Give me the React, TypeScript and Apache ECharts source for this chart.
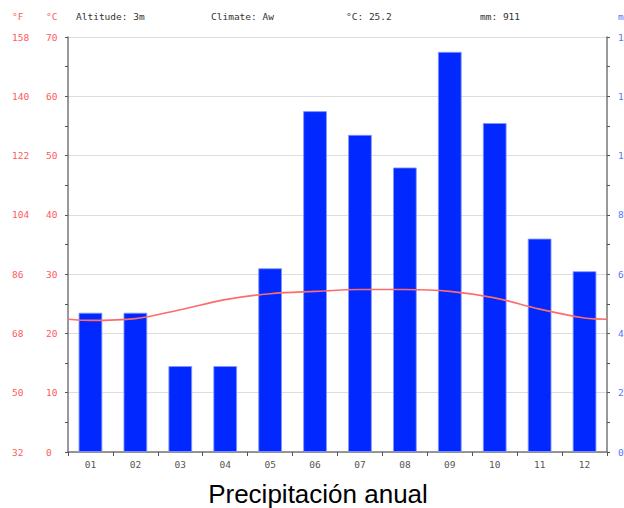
import React, { useEffect, useRef } from "react";
import * as echarts from "echarts";

// ---- data ----
const months = ["01", "02", "03", "04", "05", "06", "07", "08", "09", "10", "11", "12"];
const precipitationMm = [47, 47, 29, 29, 62, 115, 107, 96, 135, 111, 72, 61];
const temperatureC = [22.2, 22.5, 24.0, 25.7, 26.7, 27.1, 27.4, 27.4, 27.1, 26.0, 24.1, 22.6];
const temperatureAtYearEdge = 22.4; // value of the curve at both plot edges
const headerTexts = ["Altitude: 3m", "Climate: Aw", "°C: 25.2", "mm: 911"];
const chartTitle = "Precipitación anual";

const MONO = "'DejaVu Sans Mono', monospace";
const RED = "#ff5a5a";
const BLUE = "#5573ff";

export default function App() {
  const ref = useRef<HTMLDivElement>(null);

  useEffect(() => {
    if (!ref.current) return;
    const chart = echarts.init(ref.current, null, { renderer: "svg" });

    const linePoints: [number, number][] = [
      [0, temperatureAtYearEdge],
      ...temperatureC.map((t, i) => [i + 0.5, t] as [number, number]),
      [12, temperatureAtYearEdge],
    ];

    const headerX = [76, 211, 346, 480];

    chart.setOption({
      animation: false,
      backgroundColor: "#ffffff",
      grid: { left: 68, right: 660 - 607, top: 37, bottom: 508 - 452, containLabel: false },
      xAxis: [
        {
          type: "category",
          data: months,
          boundaryGap: true,
          axisLine: { show: true, lineStyle: { color: "#777", width: 1.5 } },
          axisTick: { show: true, length: 4, lineStyle: { color: "#555" } },
          axisLabel: { color: "#555", fontFamily: MONO, fontSize: 9.5, margin: 7 },
          splitLine: { show: false },
        },
        { type: "value", min: 0, max: 12, show: false },
      ],
      yAxis: [
        {
          type: "value",
          position: "left",
          min: 0,
          max: 70,
          interval: 10,
          axisLine: { show: true, lineStyle: { color: "#777", width: 1.5 } },
          axisTick: { show: true, length: 3, lineStyle: { color: "#555" } },
          minorTick: { show: true, splitNumber: 2, length: 3, lineStyle: { color: "#555" } },
          splitLine: { show: true, lineStyle: { color: "#dddddd", width: 1 } },
          axisLabel: { color: RED, fontFamily: MONO, fontSize: 9.5, align: "left", margin: 22 },
        },
        {
          type: "value",
          position: "left",
          min: 32,
          max: 158,
          interval: 18,
          axisLine: { show: false },
          axisTick: { show: false },
          splitLine: { show: false },
          axisLabel: { color: RED, fontFamily: MONO, fontSize: 9.5, align: "left", margin: 56 },
        },
        {
          type: "value",
          position: "right",
          min: 0,
          max: 140,
          interval: 20,
          axisLine: { show: true, lineStyle: { color: "#777", width: 1.5 } },
          axisTick: { show: true, length: 3, lineStyle: { color: "#555" } },
          minorTick: { show: true, splitNumber: 2, length: 3, lineStyle: { color: "#555" } },
          splitLine: { show: false },
          axisLabel: { color: BLUE, fontFamily: MONO, fontSize: 9.5, margin: 11 },
        },
      ],
      series: [
        {
          type: "bar",
          xAxisIndex: 0,
          yAxisIndex: 2,
          data: precipitationMm,
          barWidth: "53%",
          itemStyle: { color: "#0028ff", borderColor: "rgba(130,150,255,0.85)", borderWidth: 1 },
          z: 2,
        },
        {
          type: "line",
          xAxisIndex: 1,
          yAxisIndex: 0,
          data: linePoints,
          smooth: 0.35,
          showSymbol: false,
          symbol: "none",
          lineStyle: { color: "#ff6b6b", width: 1.6 },
          z: 3,
        },
      ],
      graphic: [
        { type: "text", left: 12, top: 11, style: { text: "°F", fill: RED, font: `9.5px ${MONO}` } },
        { type: "text", left: 46, top: 11, style: { text: "°C", fill: RED, font: `9.5px ${MONO}` } },
        { type: "text", left: 618, top: 11, style: { text: "mm", fill: BLUE, font: `9.5px ${MONO}` } },
        ...headerTexts.map((t, i) => ({
          type: "text",
          left: headerX[i],
          top: 11,
          style: { text: t, fill: "#333", font: `9.5px ${MONO}` },
        })),
        {
          type: "text",
          x: 318,
          y: 494,
          style: {
            text: chartTitle,
            fill: "#000",
            font: "26px 'Liberation Sans', Arial, sans-serif",
            textAlign: "center",
            textVerticalAlign: "middle",
          },
        },
      ],
    });

    return () => chart.dispose();
  }, []);

  return (
    <div style={{ position: "absolute", left: 0, top: 0, width: 624, height: 508, overflow: "hidden" }}>
      <div ref={ref} style={{ width: 660, height: 508 }} />
    </div>
  );
}
